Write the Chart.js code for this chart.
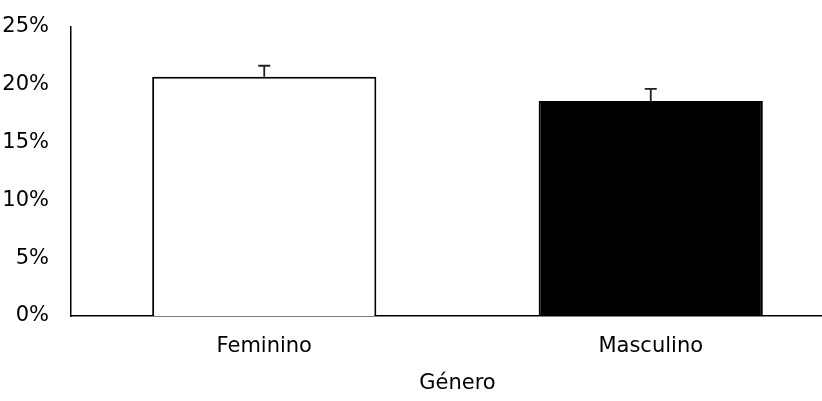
<!DOCTYPE html>
<html>
<head>
<meta charset="utf-8">
<script src="https://cdn.jsdelivr.net/npm/chart.js@4/dist/chart.umd.min.js"></script>
<style>
  html, body { margin: 0; padding: 0; background: #fff; overflow: hidden; }
  #wrap { width: 844px; height: 401px; position: relative; }
</style>
</head>
<body>
<div id="wrap"><canvas id="chart"></canvas></div>
<script>
// data
const categories = ["Feminino", "Masculino"];
const percentValues = [20.7, 18.6];
const errorValues = [0.95, 1.05];
const yTicks = [0, 5, 10, 15, 20, 25];

const FONT = "'DejaVu Sans', sans-serif";

// upward-only error bars, drawn through the chart's own scales
const errorBarPlugin = {
  id: "errorBars",
  afterDatasetsDraw(chart) {
    const { ctx, scales: { x, y } } = chart;
    const meta = chart.getDatasetMeta(0);
    ctx.save();
    ctx.strokeStyle = "#222";
    ctx.lineWidth = 1.8;
    meta.data.forEach((bar, i) => {
      const top = y.getPixelForValue(percentValues[i] + errorValues[i]);
      const base = y.getPixelForValue(percentValues[i]);
      ctx.beginPath();
      ctx.moveTo(bar.x, base);
      ctx.lineTo(bar.x, top);
      ctx.moveTo(bar.x - 6, top);
      ctx.lineTo(bar.x + 6, top);
      ctx.stroke();
    });
    ctx.restore();
  }
};

new Chart(document.getElementById("chart"), {
  type: "bar",
  data: {
    labels: categories,
    datasets: [{
      data: percentValues,
      backgroundColor: ["#ffffff", "#000000"],
      borderColor: "#000000",
      borderWidth: 2,
      categoryPercentage: 1,
      barPercentage: 0.58
    }]
  },
  options: {
    responsive: true,
    maintainAspectRatio: false,
    animation: false,
    layout: { padding: { top: 27, right: 0, bottom: 0, left: 0 } },
    plugins: { legend: { display: false }, tooltip: { enabled: false } },
    scales: {
      x: {
        grid: { display: false, drawTicks: false },
        border: { display: true, color: "#000", width: 1.5 },
        ticks: { color: "#000", padding: 18, font: { family: FONT, size: 21 } },
        title: {
          display: true,
          text: "Género",
          color: "#000",
          font: { family: FONT, size: 21 },
          padding: { top: 0, bottom: 5 }
        },
        afterFit(scale) { scale.height = 85; }
      },
      y: {
        min: 0,
        max: 25,
        grid: { display: false, drawTicks: false },
        border: { display: true, color: "#000", width: 1.5 },
        afterBuildTicks(scale) { scale.ticks = yTicks.map(v => ({ value: v })); },
        ticks: {
          color: "#000",
          padding: 22,
          font: { family: FONT, size: 21 },
          callback: v => v + "%"
        },
        afterFit(scale) {
          scale.width = 71;
          scale.paddingTop = 0;
          scale.paddingBottom = 0;
        }
      }
    }
  },
  plugins: [errorBarPlugin]
});
</script>
</body>
</html>
